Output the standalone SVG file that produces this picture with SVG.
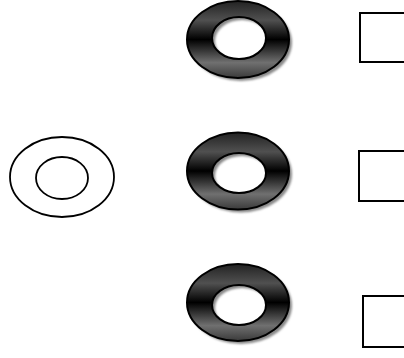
<svg xmlns="http://www.w3.org/2000/svg" width="404" height="358" viewBox="0 0 404 358">
<defs>
<linearGradient id="g" x1="0" y1="0" x2="0" y2="1">
<stop offset="0" stop-color="#222"/>
<stop offset="0.25" stop-color="#505050"/>
<stop offset="0.5" stop-color="#000"/>
<stop offset="0.8" stop-color="#707070"/>
<stop offset="1" stop-color="#3a3a3a"/>
</linearGradient>
<filter id="blur" x="-10%" y="-10%" width="120%" height="120%"><feGaussianBlur stdDeviation="0.8"/></filter>
</defs>
<style>
.donut{fill:url(#g);fill-rule:evenodd;stroke:#000;stroke-width:2}
.shadow{fill:#8a8a8a;fill-rule:evenodd;filter:url(#blur)}
.plain{fill:none;stroke:#000;stroke-width:1.8}
.box{fill:#fff;stroke:#000;stroke-width:2}
</style>
<g id="ring-left">
<ellipse class="plain" cx="62" cy="177" rx="52" ry="40"/>
<ellipse class="plain" cx="62" cy="178" rx="26" ry="21"/>
</g>
<g id="donut-1">
<path class="shadow" transform="translate(3,3)" d="M187,39.5 a51,38.5 0 1,0 102,0 a51,38.5 0 1,0 -102,0 Z M212,38 a27,21 0 1,0 54,0 a27,21 0 1,0 -54,0 Z"/>
<path class="donut" d="M187,39.5 a51,38.5 0 1,0 102,0 a51,38.5 0 1,0 -102,0 Z M212,38 a27,21 0 1,0 54,0 a27,21 0 1,0 -54,0 Z"/>
</g>
<g id="donut-2">
<path class="shadow" transform="translate(3,3)" d="M187,171 a51,38.5 0 1,0 102,0 a51,38.5 0 1,0 -102,0 Z M212,173 a27,20 0 1,0 54,0 a27,20 0 1,0 -54,0 Z"/>
<path class="donut" d="M187,171 a51,38.5 0 1,0 102,0 a51,38.5 0 1,0 -102,0 Z M212,173 a27,20 0 1,0 54,0 a27,20 0 1,0 -54,0 Z"/>
</g>
<g id="donut-3">
<path class="shadow" transform="translate(3,3)" d="M187,302.5 a51,38.5 0 1,0 102,0 a51,38.5 0 1,0 -102,0 Z M212,305 a27,20 0 1,0 54,0 a27,20 0 1,0 -54,0 Z"/>
<path class="donut" d="M187,302.5 a51,38.5 0 1,0 102,0 a51,38.5 0 1,0 -102,0 Z M212,305 a27,20 0 1,0 54,0 a27,20 0 1,0 -54,0 Z"/>
</g>
<g id="box-1"><rect class="box" x="360" y="13" width="60" height="49"/></g>
<g id="box-2"><rect class="box" x="359" y="151" width="60" height="50"/></g>
<g id="box-3"><rect class="box" x="363" y="296" width="60" height="51"/></g>
</svg>
